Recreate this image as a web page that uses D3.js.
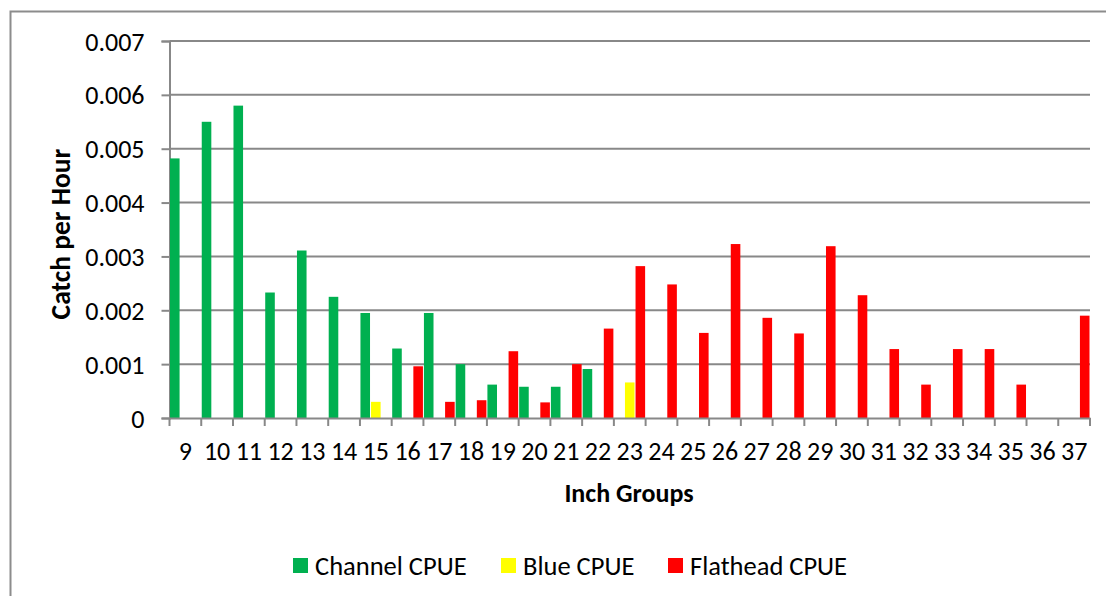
<!DOCTYPE html>
<html>
<head>
<meta charset="utf-8">
<script src="https://cdn.jsdelivr.net/npm/d3@7"></script>
<style>
  body { margin: 0; background: #fff; }
  text { font-family: Carlito, Calibri, Lato, sans-serif; fill: #000; }
</style>
</head>
<body>
<div id="chart"></div>
<script>
// inch groups and catch per hour by species
const inchGroups = ["9","10","11","12","13","14","15","16","17","18","19","20","21","22","23","24","25","26","27","28","29","30","31","32","33","34","35","36","37"]
const channelCPUE = [0.00482,0.0055,0.0058,0.00233,0.00311,0.00225,0.00195,0.00129,0.00195,0.001,0.00062,0.00058,0.00058,0.00091,0,0,0,0,0,0,0,0,0,0,0,0,0,0,0]
const blueCPUE = [0,0,0,0,0,0,0.0003,0,0,0,0,0,0,0,0.00066,0,0,0,0,0,0,0,0,0,0,0,0,0,0]
const flatheadCPUE = [0,0,0,0,0,0,0,0.00096,0.0003,0.00033,0.00124,0.00029,0.001,0.00166,0.00282,0.00248,0.00158,0.00323,0.00186,0.00157,0.00319,0.00228,0.00128,0.00062,0.00128,0.00128,0.00062,0,0.0019]
const yTicks = [0, 0.001, 0.002, 0.003, 0.004, 0.005, 0.006, 0.007]

const seriesNames = ["Channel CPUE", "Blue CPUE", "Flathead CPUE"]
const seriesColors = ["#00B050", "#FFFF00", "#FF0000"]
const seriesValues = [channelCPUE, blueCPUE, flatheadCPUE]

const width = 1106, height = 596
const margin = { top: 41, right: 16, bottom: 178, left: 169.5 }
const ctxWidth = width - margin.left - margin.right
const ctxHeight = height - margin.top - margin.bottom

const svg = d3.select("#chart").append("svg")
    .attr("width", width)
    .attr("height", height)

// outer chart border
svg.append("rect")
    .attr("x", 10.5).attr("y", 11.5)
    .attr("width", 1110).attr("height", 600)
    .attr("fill", "none").attr("stroke", "#8c8c8c").attr("stroke-width", 2)

const g = svg.append("g")
    .attr("transform", `translate(${margin.left},${margin.top})`)

const x = d3.scaleBand()
    .domain(inchGroups)
    .range([0, ctxWidth])
    .padding(0)

const xSub = d3.scaleBand()
    .domain(seriesNames)
    .range([0, x.bandwidth()])
    .padding(0)

const y = d3.scaleLinear()
    .domain([0, 0.007])
    .range([ctxHeight, 0])

// gridlines
g.append("g")
    .selectAll("line")
    .data(yTicks.slice(1))
    .join("line")
    .attr("x1", 0).attr("x2", ctxWidth)
    .attr("y1", d => y(d)).attr("y2", d => y(d))
    .attr("stroke", "#888").attr("stroke-width", 2)

// y axis
const yAxis = g.append("g")
    .call(d3.axisLeft(y).tickValues(yTicks).tickSize(8).tickPadding(17)
        .tickFormat(d => d === 0 ? "0" : d3.format(".3f")(d)))
yAxis.select(".domain").attr("stroke", "#888").attr("stroke-width", 2)
yAxis.selectAll(".tick line").attr("stroke", "#888").attr("stroke-width", 2)
yAxis.selectAll("text").style("font-size", "26px").attr("dy", "0.35em")

// bars
const groups = g.append("g")
    .selectAll("g")
    .data(inchGroups)
    .join("g")
    .attr("transform", d => `translate(${x(d)},0)`)

groups.selectAll("rect")
    .data((d, i) => seriesNames.map((s, k) => ({ s, v: seriesValues[k][i], c: seriesColors[k] })))
    .join("rect")
    .attr("x", d => xSub(d.s) + 0.5)
    .attr("width", xSub.bandwidth() - 1)
    .attr("y", d => y(d.v))
    .attr("height", d => ctxHeight - y(d.v))
    .attr("fill", d => d.c)

// x axis
const xAxis = g.append("g")
    .attr("transform", `translate(0,${ctxHeight})`)
    .call(d3.axisBottom(x).tickSize(0))
xAxis.select(".domain").attr("stroke", "#888").attr("stroke-width", 2)
xAxis.selectAll("text").style("font-size", "26px").attr("y", 42).attr("dy", 0)
// tick marks between categories
xAxis.append("g")
    .selectAll("line")
    .data(inchGroups.concat(["end"]))
    .join("line")
    .attr("x1", (d, i) => i * x.step()).attr("x2", (d, i) => i * x.step())
    .attr("y1", 0).attr("y2", 8)
    .attr("stroke", "#888").attr("stroke-width", 2)

// axis titles
svg.append("text")
    .attr("x", 629)
    .attr("y", 502)
    .attr("text-anchor", "middle")
    .style("font-size", "26px").style("font-weight", "bold")
    .text("Inch Groups")

svg.append("text")
    .attr("transform", "translate(70,234) rotate(-90)")
    .attr("text-anchor", "middle")
    .style("font-size", "27.5px").style("font-weight", "bold")
    .text("Catch per Hour")

// legend
const legendX = [293, 501, 668]
const legend = svg.append("g")
    .selectAll("g")
    .data(seriesNames)
    .join("g")
    .attr("transform", (d, i) => `translate(${legendX[i]},558)`)
legend.append("rect")
    .attr("width", 15).attr("height", 15)
    .attr("fill", (d, i) => seriesColors[i])
legend.append("text")
    .attr("x", 22).attr("y", 7.5).attr("dy", "0.35em")
    .style("font-size", "26.5px")
    .text(d => d)
</script>
</body>
</html>
